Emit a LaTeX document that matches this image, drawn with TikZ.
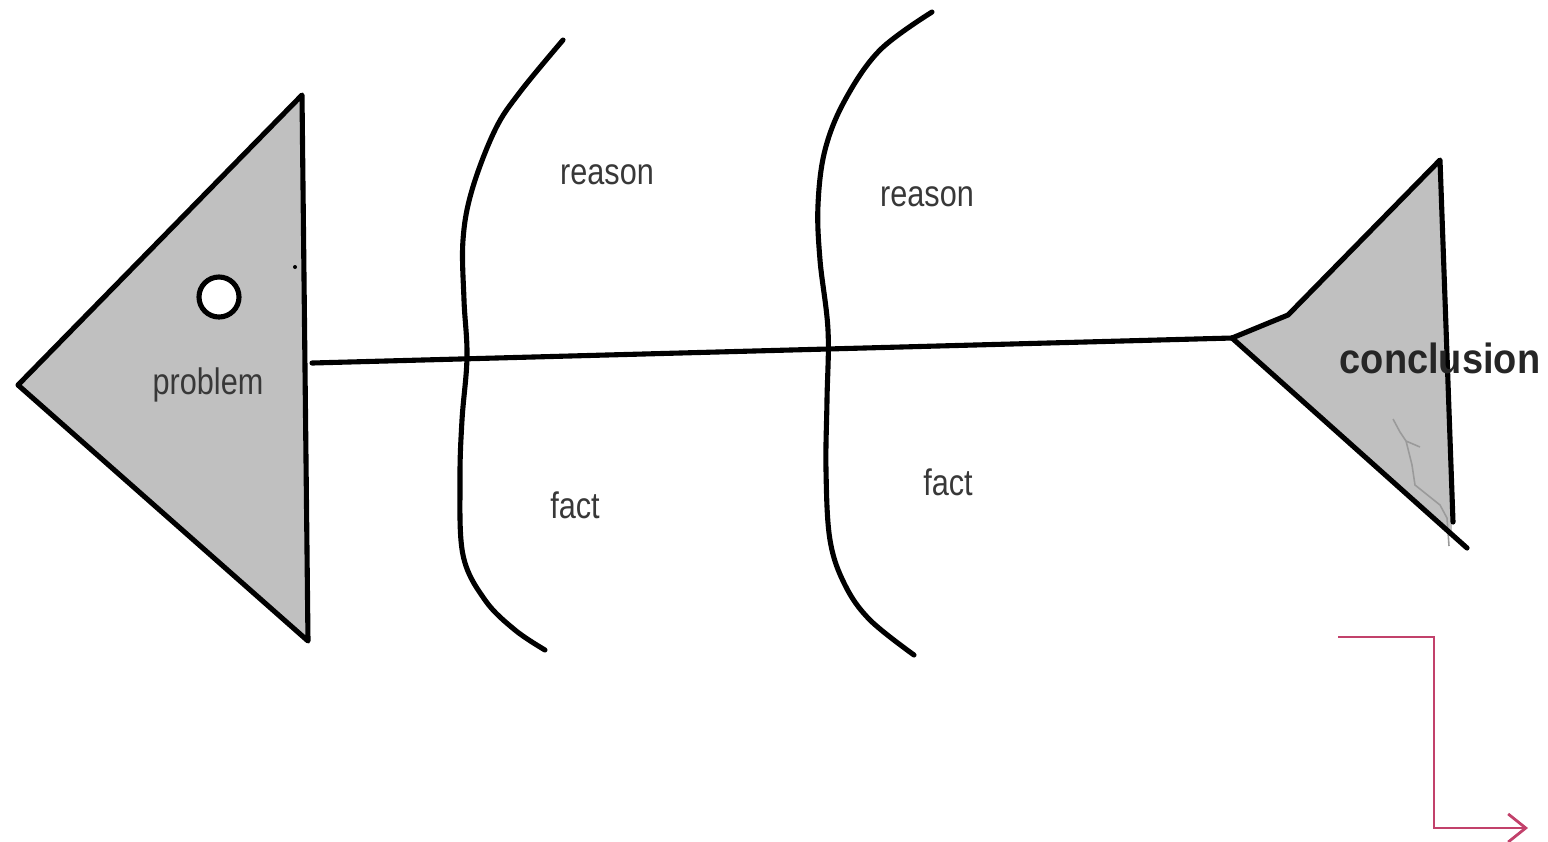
\documentclass[tikz,border=0pt]{standalone}
\usepackage{fontspec}
\setmainfont{Liberation Sans}
\newfontfamily\narrowsans[FakeStretch=0.83]{Liberation Sans}
\newfontfamily\concsans[FakeStretch=0.9]{Liberation Sans}
\usepackage{tikz}
\usetikzlibrary{arrows.meta}

\definecolor{headgray}{HTML}{C0C0C0}
\definecolor{scribble}{HTML}{9A9A9A}
\definecolor{arrowred}{HTML}{C2416B}

\begin{document}
\begin{tikzpicture}[x=0.01cm, y=-0.01cm,
  bone/.style={line width=1.45pt, line cap=round, line join=round},
  lbl/.style={font=\narrowsans\fontsize{10.5}{12}\selectfont, text=black!78, inner sep=0pt}]
  \useasboundingbox (0,0) rectangle (1548,841);

  % Head: grey triangle with the eye.
  \coordinate (htip) at (18,385);
  \coordinate (htop) at (302,95);
  \coordinate (hbot) at (308,641);
  \filldraw[bone, fill=headgray] (htip) -- (htop) -- (hbot) -- cycle;
  \filldraw[line width=1.45pt, fill=white] (219,297) circle (0.2cm);
  \fill (295,267) circle (0.02cm);
  \node[lbl] (problem) at (208,385) {problem};

  % Tail.
  \coordinate (ttip) at (1232,338);
  \coordinate (tkink) at (1288,315);
  \coordinate (ttop) at (1440,160);
  \coordinate (tfin) at (1453,522);
  \coordinate (tbot) at (1467,548);
  \fill[headgray] (ttip) -- (tkink) -- (ttop) -- (1452,532) -- cycle;
  \draw[scribble, line width=0.45pt]
    (1393,419) -- (1400,432) -- (1406,441) -- (1420,447)
    (1406,441) -- (1412,465) -- (1415,485) -- (1440,505) -- (1447,518) -- (1449,546);
  \draw[bone] (ttip) -- (1266,324) -- (tkink) -- (ttop) -- (tfin);
  \draw[bone] (ttip) -- (tbot);
  \node[font=\concsans\bfseries\fontsize{12}{14}\selectfont, text=black!85, inner sep=0pt]
    (conclusion) at (1440,358) {conclusion};

  % Spine.
  \coordinate (spine) at (312,363);
  \draw[bone] (spine) -- (ttip);

  % Ribs.
  \draw[bone] plot[smooth, tension=0.6] coordinates {(563,40) (520,92) (495,130)
    (472,190) (463,240) (464,300) (467,357) (462,420) (460,480) (463,555)
    (485,600) (515,630) (545,650)};
  \draw[bone] plot[smooth, tension=0.6] coordinates {(932,12) (880,50) (845,100)
    (825,150) (818,205) (820,260) (828,330) (827,400) (826,470) (830,540)
    (845,585) (870,620) (914,655)};

  \node[lbl] (reasonA) at (607,175) {reason};
  \node[lbl] (reasonB) at (927,197) {reason};
  \node[lbl] (factA) at (575,505) {fact};
  \node[lbl] (factB) at (948,482) {fact};

  % Red turn arrow.
  \coordinate (rstart) at (1338,637);
  \coordinate (rend) at (1528,828);
  \draw[arrowred, line width=0.8pt, -{Straight Barb[length=5pt, width=8pt]}]
    (rstart) -- (1434,637) |- (rend);
\end{tikzpicture}
\end{document}
